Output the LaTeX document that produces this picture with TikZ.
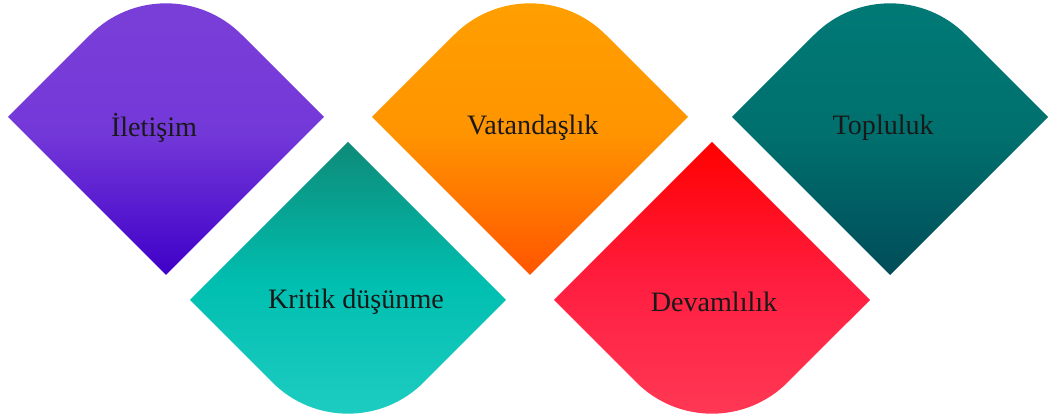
\documentclass[tikz,border=0pt]{standalone}
\usepackage{fontspec}
\setmainfont{Liberation Serif}
\definecolor{purpleA}{HTML}{7B3FD8}
\definecolor{purpleB}{HTML}{7338D8}
\definecolor{purpleC}{HTML}{3F00C8}
\definecolor{tealA}{HTML}{0E8A78}
\definecolor{tealB}{HTML}{00BFB0}
\definecolor{tealC}{HTML}{20CDC2}
\definecolor{orangeA}{HTML}{FFA000}
\definecolor{orangeB}{HTML}{FF9400}
\definecolor{orangeC}{HTML}{FF5500}
\definecolor{redA}{HTML}{FF0000}
\definecolor{redB}{HTML}{FF1E40}
\definecolor{redC}{HTML}{FF3A56}
\definecolor{petrolA}{HTML}{007A76}
\definecolor{petrolB}{HTML}{00706E}
\definecolor{petrolC}{HTML}{004C58}
\begin{document}
\begin{tikzpicture}[
    lbl/.style={font=\fontsize{20}{24}\selectfont, text=black!90},
  ]
  \useasboundingbox (0,0) rectangle (26.2,10.425);
  % top row, rounded top corner
  \shade[top color=purpleA, bottom color=purpleC, middle color=purpleB] (0.2,7.5) -- ++(45:2.911) arc[start angle=135, end angle=45, radius=2.675cm] -- (8.1,7.5) -- (4.15,3.55) -- cycle;
  \shade[top color=orangeA, bottom color=orangeC, middle color=orangeB] (9.3,7.5) -- ++(45:2.911) arc[start angle=135, end angle=45, radius=2.675cm] -- (17.2,7.5) -- (13.25,3.55) -- cycle;
  \shade[top color=petrolA, bottom color=petrolC, middle color=petrolB] (18.3,7.5) -- ++(45:2.911) arc[start angle=135, end angle=45, radius=2.675cm] -- (26.2,7.5) -- (22.25,3.55) -- cycle;
  % bottom row, rounded bottom corner
  \shade[top color=tealA, bottom color=tealC, middle color=tealB] (4.75,2.925) -- ++(-45:2.911) arc[start angle=225, end angle=315, radius=2.675cm] -- (12.65,2.925) -- (8.7,6.875) -- cycle;
  \shade[top color=redA, bottom color=redC, middle color=redB] (13.85,2.925) -- ++(-45:2.911) arc[start angle=225, end angle=315, radius=2.675cm] -- (21.75,2.925) -- (17.8,6.875) -- cycle;

  \node[lbl] (iletisim) at (3.85,7.225) {İletişim};
  \node[lbl] (kritik) at (8.9,2.875) {Kritik düşünme};
  \node[lbl] (vatandaslik) at (13.32,7.225) {Vatandaşlık};
  \node[lbl] (devamlilik) at (17.85,2.875) {Devamlılık};
  \node[lbl] (topluluk) at (22.08,7.225) {Topluluk};
\end{tikzpicture}
\end{document}
